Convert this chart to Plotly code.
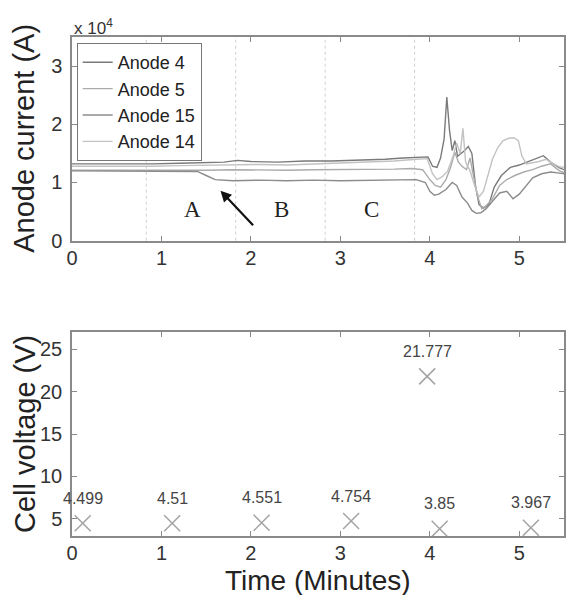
import plotly.graph_objects as go

# ---- anode currents (A), x1e4 scaled on the axis ----
t_a4 = [0, 0.3, 0.6, 0.9, 1.2, 1.5, 1.7, 1.85, 2.0, 2.3, 2.6, 2.9, 3.2, 3.5, 3.7, 3.85,
        3.98, 4.03, 4.08, 4.12, 4.16, 4.19, 4.22, 4.25, 4.28, 4.31, 4.35, 4.39, 4.43, 4.47,
        4.51, 4.55, 4.6, 4.66, 4.72, 4.8, 4.9, 5.0, 5.1, 5.2, 5.27, 5.35, 5.45, 5.5]
i_a4 = [13200, 13200, 13100, 13200, 13300, 13400, 13500, 13800, 13600, 13500, 13700, 13700,
        13800, 14000, 14200, 14300, 14400, 12800, 12600, 14200, 17500, 24700, 19000, 15500,
        17200, 14500, 15000, 15500, 16200, 15000, 9500, 6200, 5600, 6200, 9200, 11200, 12600,
        13000, 13600, 14200, 14600, 13500, 12500, 12200]

t_a5 = [0, 0.3, 0.6, 0.9, 1.2, 1.5, 1.8, 2.1, 2.4, 2.7, 3.0, 3.3, 3.6, 3.8, 3.92, 4.0,
        4.06, 4.12, 4.18, 4.23, 4.28, 4.32, 4.36, 4.41, 4.45, 4.49, 4.53, 4.58, 4.63, 4.7,
        4.78, 4.86, 4.95, 5.05, 5.15, 5.25, 5.35, 5.45, 5.5]
i_a5 = [12100, 12100, 12000, 12100, 12100, 12100, 12200, 12100, 12100, 12200, 12200, 12300,
        12300, 12400, 12200, 10500, 9500, 9200, 10500, 12500, 15200, 13500, 12800, 12200,
        14200, 11000, 7800, 5500, 6000, 7200, 9500, 10500, 11200, 11800, 12200, 12800, 13200,
        12000, 11700]

t_a15 = [0, 0.3, 0.6, 0.9, 1.2, 1.4, 1.5, 1.6, 1.8, 2.1, 2.4, 2.7, 3.0, 3.3, 3.6, 3.85,
         3.95, 4.0, 4.05, 4.1, 4.18, 4.25, 4.3, 4.36, 4.42, 4.47, 4.52, 4.57, 4.63, 4.7,
         4.78, 4.86, 4.93, 5.0, 5.08, 5.15, 5.25, 5.35, 5.45, 5.5]
i_a15 = [12000, 12000, 11900, 12000, 12000, 11900, 11200, 10500, 10300, 10400, 10300, 10400,
         10300, 10400, 10500, 10500, 10000, 8500, 7800, 8000, 8800, 10000, 9500, 7500, 6500,
         5200, 4700, 4800, 5500, 6800, 8200, 8500, 7200, 8000, 9500, 10800, 11500, 11800,
         11600, 11500]

t_a14 = [0, 0.3, 0.6, 0.9, 1.2, 1.5, 1.8, 2.1, 2.4, 2.7, 3.0, 3.3, 3.6, 3.85, 3.97, 4.03,
         4.08, 4.14, 4.2, 4.26, 4.3, 4.34, 4.37, 4.40, 4.45, 4.5, 4.55, 4.6, 4.65, 4.7, 4.76,
         4.82, 4.88, 4.94, 4.99, 5.03, 5.08, 5.15, 5.22, 5.3, 5.38, 5.45, 5.5]
i_a14 = [12800, 12800, 12700, 12800, 12900, 13000, 13100, 13100, 13000, 13200, 13300, 13500,
         13700, 14000, 14100, 11500, 10500, 11000, 12000, 14500, 16800, 15000, 19300, 13500,
         12000, 9500, 7500, 8500, 11500, 14000, 16000, 17200, 17600, 17700, 17200, 14500,
         13200, 13400, 13600, 14000, 13200, 12700, 12600]

anode_names = ["Anode 4", "Anode 5", "Anode 15", "Anode 14"]
anode_colors = ["#7a7a7a", "#ababab", "#8c8c8c", "#c2c2c2"]

# phase boundaries (minutes) and phase labels
phase_lines = [0.83, 1.83, 2.83, 3.83]
phase_labels = ["A", "B", "C"]
phase_label_t = [1.35, 2.34, 3.35]
phase_label_i = [5400, 5400, 5400]

# ---- cell voltage samples ----
v_time = [0.12, 1.12, 2.12, 3.12, 3.97, 4.11, 5.13]
v_cell = [4.499, 4.51, 4.551, 4.754, 21.777, 3.85, 3.967]

x_ticks = [0, 1, 2, 3, 4, 5]
i_ticks = [0, 10000, 20000, 30000]
i_tick_text = ["0", "1", "2", "3"]
v_ticks = [5, 10, 15, 20, 25]

FONT = "Liberation Sans, Arial, sans-serif"
AX = "#8a8a8a"

fig = go.Figure()

series = [(t_a4, i_a4), (t_a5, i_a5), (t_a15, i_a15), (t_a14, i_a14)]
for (tt, ii), name, col in zip(series, anode_names, anode_colors):
    fig.add_trace(go.Scatter(x=tt, y=ii, mode="lines", name=name,
                             line=dict(color=col, width=1.4),
                             xaxis="x", yaxis="y"))

fig.add_trace(go.Scatter(x=v_time, y=v_cell, mode="markers", showlegend=False,
                         marker=dict(symbol="x-thin-open", size=16, color="#a3a3a3",
                                     line=dict(color="#a3a3a3", width=1.5)),
                         xaxis="x2", yaxis="y2"))

for xv in phase_lines:
    fig.add_shape(type="line", x0=xv, x1=xv, y0=0, y1=1, xref="x", yref="y domain",
                  line=dict(color="#cfcfcf", width=1, dash="dot"), layer="below")

annotations = []
for lab, tx, iy in zip(phase_labels, phase_label_t, phase_label_i):
    annotations.append(dict(x=tx, y=iy, xref="x", yref="y", text=lab, showarrow=False,
                            font=dict(family="Liberation Serif, Times New Roman, serif",
                                      size=23, color="#222")))
# arrow pointing at the drop of one anode
annotations.append(dict(x=1.66, y=8600, ax=2.04, ay=2400, xref="x", yref="y",
                        axref="x", ayref="y", text="", showarrow=True,
                        arrowhead=2, arrowsize=1, arrowwidth=2.2, arrowcolor="#111"))
for tv, vv in zip(v_time, v_cell):
    annotations.append(dict(x=tv, y=vv, xref="x2", yref="y2", text=str(vv),
                            showarrow=False, yshift=25,
                            font=dict(family=FONT, size=16, color="#444")))
annotations.append(dict(x=0, y=1, xref="paper", yref="paper", text="x 10<sup>4</sup>",
                        showarrow=False, xanchor="left", yanchor="bottom", yshift=-3,
                        font=dict(family=FONT, size=17, color="#333")))
annotations.append(dict(x=0, y=0.7959, xref="paper", yref="paper", text="Anode current (A)",
                        showarrow=False, textangle=-90, xanchor="center", yanchor="middle",
                        xshift=-48, font=dict(family=FONT, size=29, color="#222")))
annotations.append(dict(x=0, y=0.2044, xref="paper", yref="paper", text="Cell voltage (V)",
                        showarrow=False, textangle=-90, xanchor="center", yanchor="middle",
                        xshift=-47, font=dict(family=FONT, size=29, color="#222")))
annotations.append(dict(x=0.5, y=0, xref="paper", yref="paper", text="Time (Minutes)",
                        showarrow=False, xanchor="center", yanchor="middle",
                        yshift=-44, font=dict(family=FONT, size=28, color="#222")))

axis_common = dict(showline=True, linecolor=AX, linewidth=1.5, mirror="ticks",
                   ticks="inside", ticklen=5, tickcolor=AX, tickwidth=1,
                   showgrid=False, zeroline=False,
                   tickfont=dict(family=FONT, size=20, color="#333"))

fig.update_layout(
    width=567, height=595,
    margin=dict(l=72, r=1, t=37, b=59),
    paper_bgcolor="white", plot_bgcolor="white",
    showlegend=True,
    legend=dict(x=0.0095, y=0.988, xanchor="left", yanchor="top",
                bgcolor="white", bordercolor="#777", borderwidth=1,
                font=dict(family=FONT, size=18, color="#222"),
                tracegroupgap=0, itemwidth=30),
    xaxis=dict(domain=[0, 1], anchor="y", range=[0, 5.5], tickvals=x_ticks,
               ticklabelstandoff=-1, **axis_common),
    yaxis=dict(domain=[0.5918, 1], anchor="x", range=[0, 35000], tickvals=i_ticks,
               ticktext=i_tick_text, ticklabelstandoff=4, **axis_common),
    xaxis2=dict(domain=[0, 1], anchor="y2", range=[0, 5.5], tickvals=x_ticks,
                ticklabelstandoff=-2, **axis_common),
    yaxis2=dict(domain=[0, 0.4088], anchor="x2", range=[3, 27], tickvals=v_ticks,
                ticklabelstandoff=4, **axis_common),
    annotations=annotations,
)

fig.write_html("out.html")
